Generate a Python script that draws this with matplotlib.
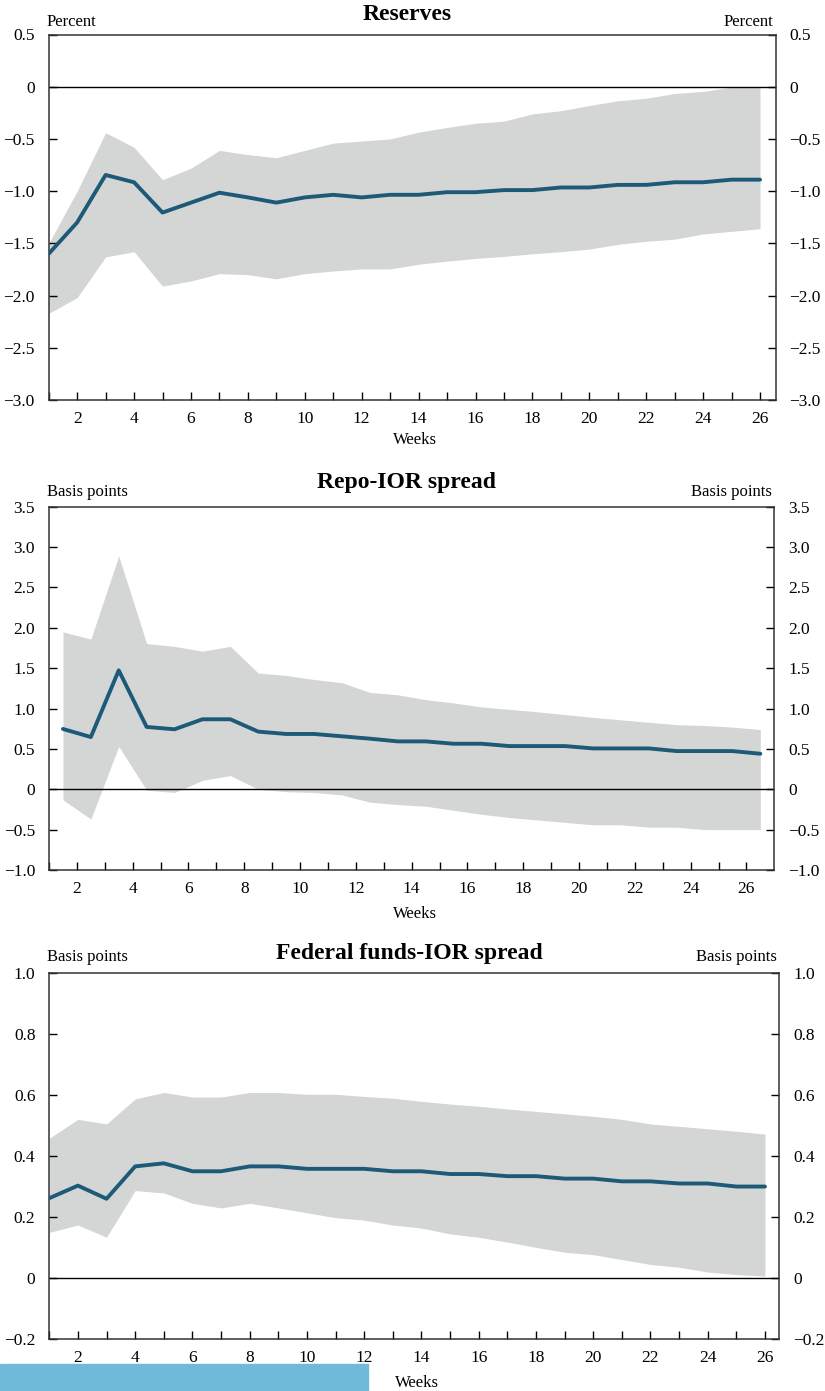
import numpy as np
import matplotlib
matplotlib.use("Agg")
import matplotlib.pyplot as plt
from matplotlib.patches import Rectangle
from matplotlib.ticker import FixedLocator, FuncFormatter

plt.rcParams['font.family'] = ['Liberation Serif', 'DejaVu Serif']

# Reserves (weeks 1..26), percent
res_weeks = list(range(1, 27))
res_mid = [-1.60, -1.30, -0.845, -0.915, -1.205, -1.11, -1.015, -1.06, -1.11, -1.06,
           -1.035, -1.06, -1.035, -1.035, -1.01, -1.01, -0.99, -0.99, -0.965, -0.965,
           -0.94, -0.94, -0.915, -0.915, -0.89, -0.89]
res_hi = [-1.50, -1.00, -0.44, -0.58, -0.89, -0.78, -0.61, -0.65, -0.68, -0.61,
          -0.54, -0.52, -0.50, -0.435, -0.39, -0.35, -0.33, -0.26, -0.23, -0.18,
          -0.135, -0.11, -0.065, -0.045, -0.005, 0.0]
res_lo = [-2.17, -2.02, -1.63, -1.58, -1.91, -1.86, -1.79, -1.80, -1.84, -1.79,
          -1.765, -1.745, -1.745, -1.70, -1.67, -1.645, -1.625, -1.60, -1.58, -1.555,
          -1.51, -1.48, -1.46, -1.41, -1.385, -1.36]

# Repo-IOR spread (weeks 1.5..26.5), basis points
repo_weeks = [w + 0.5 for w in range(1, 27)]
repo_mid = [0.747, 0.647, 1.473, 0.772, 0.743, 0.867, 0.867, 0.714, 0.685, 0.685,
            0.656, 0.627, 0.593, 0.593, 0.564, 0.564, 0.535, 0.535, 0.535, 0.506,
            0.506, 0.506, 0.473, 0.473, 0.473, 0.44]
repo_hi = [1.95, 1.86, 2.89, 1.805, 1.77, 1.71, 1.77, 1.44, 1.41, 1.36,
           1.32, 1.20, 1.17, 1.11, 1.07, 1.02, 0.99, 0.96, 0.925, 0.89,
           0.86, 0.83, 0.80, 0.79, 0.77, 0.74]
repo_lo = [-0.13, -0.37, 0.53, -0.01, -0.04, 0.11, 0.17, 0.0, -0.03, -0.04,
           -0.07, -0.16, -0.19, -0.21, -0.26, -0.31, -0.35, -0.38, -0.41, -0.44,
           -0.44, -0.47, -0.47, -0.50, -0.50, -0.50]

# Federal funds-IOR spread (weeks 1..26), basis points
ff_weeks = list(range(1, 27))
ff_mid = [0.262, 0.303, 0.26, 0.366, 0.376, 0.35, 0.35, 0.366, 0.366, 0.358,
          0.358, 0.358, 0.35, 0.35, 0.341, 0.341, 0.334, 0.334, 0.326, 0.326,
          0.317, 0.317, 0.31, 0.31, 0.30, 0.30]
ff_hi = [0.458, 0.52, 0.505, 0.587, 0.608, 0.593, 0.593, 0.608, 0.608, 0.602,
         0.602, 0.595, 0.589, 0.579, 0.57, 0.563, 0.554, 0.546, 0.538, 0.53,
         0.52, 0.505, 0.497, 0.489, 0.481, 0.472]
ff_lo = [0.15, 0.174, 0.134, 0.287, 0.279, 0.245, 0.23, 0.245, 0.23, 0.214,
         0.198, 0.19, 0.174, 0.164, 0.145, 0.134, 0.118, 0.101, 0.085, 0.077,
         0.061, 0.045, 0.036, 0.02, 0.012, 0.007]

W, H = 825, 1391
LINE = '#1d5a78'
BAND = '#d4d6d6'


def fmt_val(v, _pos=None):
    if abs(v) < 1e-9:
        return '0'
    s = f'{abs(v):.1f}'
    return ('\u2212' + s) if v < 0 else s


def panel(box, title, unit, weeks, mid, lo, hi, xlim, ylim, ystep, title_y, unit_y, weeks_y):
    l, t, r, b = box
    ax = fig.add_axes([l / W, 1 - b / H, (r - l) / W, (b - t) / H])
    ax.fill_between(weeks, lo, hi, color=BAND, lw=0, zorder=1)
    ax.axhline(0, color='black', lw=1.0, zorder=2)
    ax.plot(weeks, mid, color=LINE, lw=2.8, solid_capstyle='round', zorder=3)
    ax.set_xlim(*xlim)
    ax.set_ylim(*ylim)
    ax.xaxis.set_major_locator(FixedLocator(list(range(2, 27, 2))))
    ax.xaxis.set_minor_locator(FixedLocator(list(range(1, 27, 2))))
    yt = np.round(np.arange(ylim[0], ylim[1] + ystep / 2, ystep), 2)
    ax.yaxis.set_major_locator(FixedLocator(yt))
    ax.yaxis.set_major_formatter(FuncFormatter(fmt_val))
    ax.tick_params(axis='x', which='both', direction='in', length=6, width=1,
                   labelsize=12.5, pad=8, top=False)
    ax.tick_params(axis='y', direction='in', length=6, width=1, labelsize=12.5,
                   left=True, right=True, labelleft=True, labelright=True, pad=10)
    for sp in ax.spines.values():
        sp.set_color('#333333')
        sp.set_linewidth(1.1)
    fig.text(((l + r) / 2 - 5) / W, 1 - title_y / H, title, ha='center', va='center',
             fontsize=17, fontweight='bold')
    fig.text((l - 2) / W, 1 - unit_y / H, unit, ha='left', va='center', fontsize=12)
    fig.text((r - 2) / W, 1 - unit_y / H, unit, ha='right', va='center', fontsize=12)
    fig.text(((l + r) / 2 + 3) / W, 1 - weeks_y / H, 'Weeks', ha='center', va='center',
             fontsize=12)
    return ax


fig = plt.figure(figsize=(W / 100, H / 100), dpi=100)

panel((48.7, 34.5, 775.7, 400.0), 'Reserves', 'Percent', res_weeks, res_mid, res_lo, res_hi,
      (1, 26.55), (-3.0, 0.5), 0.5, 15, 22, 440)
panel((49.0, 506.7, 774.3, 870.0), 'Repo-IOR spread', 'Basis points', repo_weeks, repo_mid,
      repo_lo, repo_hi, (1, 27), (-1.0, 3.5), 0.5, 482, 492, 914)
panel((49.3, 972.7, 779.3, 1339.3), 'Federal funds-IOR spread', 'Basis points', ff_weeks,
      ff_mid, ff_lo, ff_hi, (1, 26.5), (-0.2, 1.0), 0.2, 954, 957, 1383)

fig.patches.append(Rectangle((0, 0), 368 / W, 27 / H, transform=fig.transFigure,
                             color='#6fb9d9', zorder=0))

fig.savefig('out.png', dpi=100)
